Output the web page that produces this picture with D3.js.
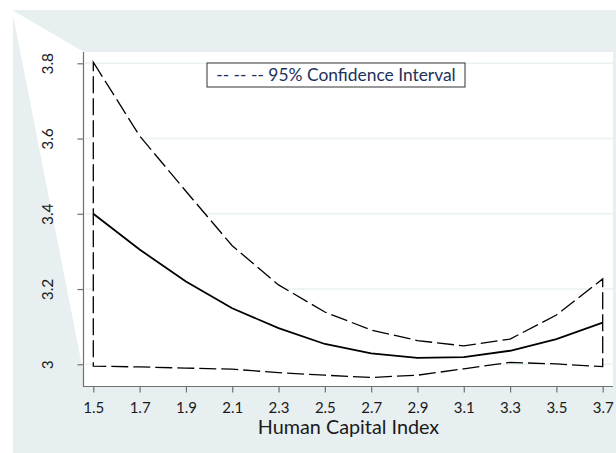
<!DOCTYPE html>
<html lang="en">

<head>
  <meta charset="utf-8">
  <title>Human Capital Index</title>
  <script src="https://cdn.jsdelivr.net/npm/d3@7"></script>
  <style>
    body { margin: 0; background: #fff; }
    svg { display: block; font-family: Lato, "Open Sans", sans-serif; }
  </style>
</head>

<body>
  <svg id="chart" width="616" height="453"></svg>

  <script>
    // values
    var hci = [1.5, 1.7, 1.9, 2.1, 2.3, 2.5, 2.7, 2.9, 3.1, 3.3, 3.5, 3.7];
    var fit = [3.400, 3.305, 3.220, 3.149, 3.096, 3.054, 3.029, 3.017, 3.019, 3.036, 3.067, 3.111];
    var upper = [3.803, 3.607, 3.460, 3.315, 3.211, 3.139, 3.091, 3.063, 3.049, 3.067, 3.131, 3.227];
    var lower = [2.995, 2.993, 2.990, 2.987, 2.978, 2.971, 2.965, 2.971, 2.988, 3.005, 3.001, 2.994];
    var xTicks = [1.5, 1.7, 1.9, 2.1, 2.3, 2.5, 2.7, 2.9, 3.1, 3.3, 3.5, 3.7];
    var yTicks = [3, 3.2, 3.4, 3.6, 3.8];
    var legendText = "-- -- -- 95% Confidence Interval";
    var xTitle = "Human Capital Index";

    var svg = d3.select("#chart");

    // plot region (pixels)
    var plot = { left: 84, right: 613, top: 52, bottom: 386 };

    var x = d3.scaleLinear().domain([1.5, 3.7]).range([93.3, 602.7]);
    var y = d3.scaleLinear().domain([3, 3.8]).range([364.3, 63.3]);

    // outer background
    svg.append("rect")
      .attr("x", 13).attr("y", 10)
      .attr("width", 603).attr("height", 443)
      .attr("fill", "#e8eff1");

    // odd white wedge on the left
    svg.append("polygon")
      .attr("points", "12,10 84,52 86,386")
      .attr("fill", "#ffffff");

    // plot region
    svg.append("rect")
      .attr("x", plot.left).attr("y", plot.top)
      .attr("width", plot.right - plot.left).attr("height", plot.bottom - plot.top)
      .attr("fill", "#ffffff");

    // gridlines
    svg.append("g")
      .selectAll("line")
      .data(yTicks)
      .join("line")
      .attr("x1", plot.left + 1).attr("x2", plot.right)
      .attr("y1", function (d) { return y(d); })
      .attr("y2", function (d) { return y(d); })
      .attr("stroke", "#eaf2f3")
      .attr("stroke-width", 1.5);

    // confidence band: white fill with a dashed outline
    var band = hci.map(function (d, i) { return [x(d), y(upper[i])]; })
      .concat(hci.slice().reverse().map(function (d, i) {
        return [x(d), y(lower[hci.length - 1 - i])];
      }));

    svg.append("path")
      .attr("d", d3.line()(band) + "Z")
      .attr("fill", "#ffffff")
      .attr("stroke", "#000")
      .attr("stroke-width", 1.3)
      .attr("stroke-dasharray", "17,5");

    // fitted line
    var line = d3.line()
      .x(function (d, i) { return x(hci[i]); })
      .y(function (d) { return y(d); });

    svg.append("path")
      .datum(fit)
      .attr("d", line)
      .attr("fill", "none")
      .attr("stroke", "#000")
      .attr("stroke-width", 1.8);

    // axes
    var xAxis = svg.append("g")
      .attr("transform", "translate(0," + (plot.bottom + 0.5) + ")")
      .call(d3.axisBottom(x).tickValues(xTicks).tickSize(6).tickSizeOuter(0)
        .tickFormat(d3.format(".1f")));
    xAxis.select(".domain").attr("d", "M" + (plot.left - 1) + ",0H" + plot.right);

    var yAxis = svg.append("g")
      .attr("transform", "translate(" + (plot.left - 0.5) + ",0)")
      .call(d3.axisLeft(y).tickValues(yTicks).tickSize(6).tickSizeOuter(0)
        .tickFormat(function (d) { return d === 3 ? "3" : d3.format(".1f")(d); }));
    yAxis.select(".domain").attr("d", "M0," + plot.top + "V" + (plot.bottom + 1));

    svg.selectAll(".domain, .tick line")
      .attr("stroke", "#707070")
      .attr("stroke-width", 1.2);

    xAxis.attr("font-size", 15).attr("font-family", null);
    xAxis.selectAll(".tick text")
      .attr("y", 26).attr("dy", 0)
      .attr("fill", "#1a1a1a");

    yAxis.attr("font-size", 15.5).attr("font-family", null);
    yAxis.selectAll(".tick text")
      .attr("x", 0).attr("dy", 0)
      .attr("text-anchor", "middle")
      .attr("transform", "translate(-31,0) rotate(-90)")
      .attr("fill", "#1a1a1a");

    // axis title
    svg.append("text")
      .attr("x", (plot.left + plot.right) / 2)
      .attr("y", 434)
      .attr("text-anchor", "middle")
      .attr("font-size", 19.8)
      .attr("fill", "#1a1a1a")
      .text(xTitle);

    // legend
    svg.append("rect")
      .attr("x", 207).attr("y", 63)
      .attr("width", 258).attr("height", 24)
      .attr("fill", "#fff")
      .attr("stroke", "#333")
      .attr("stroke-width", 1);

    svg.append("text")
      .attr("x", 336)
      .attr("y", 80.5)
      .attr("text-anchor", "middle")
      .attr("font-size", 17.4)
      .attr("fill", "#22305c")
      .text(legendText);
  </script>
</body>

</html>
